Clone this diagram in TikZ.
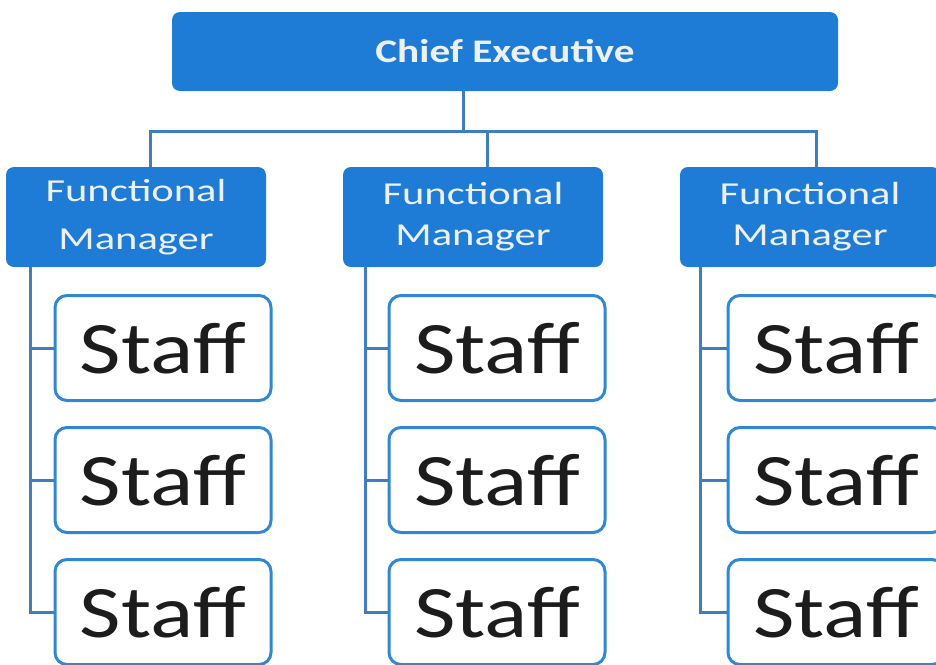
\documentclass[tikz,border=0pt]{standalone}
\usepackage{fontspec}
\setmainfont{Carlito}
\newfontfamily\headfont[FakeStretch=1.25]{Carlito}
\newfontfamily\mgrfont[FakeStretch=1.33]{Carlito}
\newfontfamily\stafffont[FakeStretch=1.22]{Carlito}
\usepackage{tikz}
\usetikzlibrary{positioning}
\definecolor{boxblue}{RGB}{31,124,214}
\definecolor{lineblue}{RGB}{62,126,192}
\definecolor{edgeblue}{RGB}{48,136,212}
\definecolor{inkgray}{RGB}{28,28,28}
\definecolor{paletext}{RGB}{236,240,240}

\begin{document}
\begin{tikzpicture}[x=1pt,y=-1pt,
    bluebox/.style={fill=boxblue,rounded corners=8pt,inner sep=0pt,text=paletext,align=center},
    chief/.style={bluebox,minimum width=666pt,minimum height=79pt,font=\headfont\bfseries\fontsize{33}{36}\selectfont},
    mgr/.style={bluebox,minimum width=260pt,minimum height=100pt,font=\mgrfont\fontsize{32}{#1}\selectfont},
    mgr/.default=41,
    staff/.style={draw=edgeblue,line width=3pt,fill=white,rounded corners=12pt,inner sep=0pt,
        minimum width=216pt,minimum height=105pt,text=inkgray,font=\stafffont\fontsize{74}{80}\selectfont},
    link/.style={draw=lineblue,line width=3pt}]
    \useasboundingbox (0,0) rectangle (936,664);

    \node[chief] (ceo) at (505,51.5) {Chief Executive};

    \node[mgr=48] (fm_1) at (136,217) {Functional\\Manager};
    \node[mgr] (fm_2) at (473,217) {Functional\\Manager};
    \node[mgr] (fm_3) at (810,217) {Functional\\Manager};

    \foreach \c/\x in {1/163,2/497,3/836}
        \foreach \r/\y in {1/348,2/480,3/612}
            \node[staff] (s_\c_\r) at (\x,\y) {Staff};

    \coordinate (bus) at (463,131);
    \draw[link] ([xshift=-42pt]ceo.south) -- (bus);
    \draw[link] ([xshift=14pt]fm_1.north) |- (bus) -| ([xshift=6pt]fm_3.north);
    \draw[link] ([xshift=14pt]fm_2.north) -- ([xshift=14pt]fm_2.north |- bus);

    \foreach \c/\x in {1/30,2/365,3/700} {
        \coordinate (t_\c) at (\x,0);
        \draw[link] (fm_\c.south -| t_\c) |- (s_\c_3.west);
        \foreach \r in {1,2}
            \draw[link] (s_\c_\r.west) -- (s_\c_\r.west -| t_\c);
    }
\end{tikzpicture}
\end{document}
